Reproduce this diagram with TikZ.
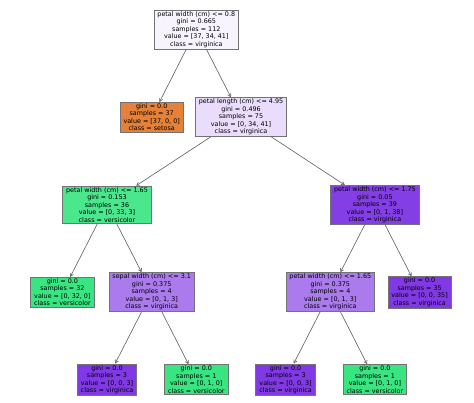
\documentclass[tikz,border=0pt]{standalone}
\usepackage{fontspec}
\setmainfont{DejaVu Sans}
\usetikzlibrary{arrows.meta}
\definecolor{cRoot}{RGB}{248,244,254}
\definecolor{cPL}{RGB}{233,221,251}
\definecolor{cA}{RGB}{75,231,140}
\definecolor{cB}{RGB}{132,62,230}
\definecolor{cMid}{RGB}{171,123,238}
\definecolor{cOr}{RGB}{229,129,57}
\definecolor{cGr}{RGB}{57,229,129}
\definecolor{cPu}{RGB}{129,57,229}
\begin{document}
\begin{tikzpicture}[x=1pt,y=-1pt,
  tn/.style={draw=black!55, line width=0.7pt, inner xsep=3.5pt, inner ysep=1.3pt,
    align=center, font=\fontsize{6.4}{7.5}\selectfont, text=black},
  edge/.style={draw=black!60, line width=0.65pt, -{Straight Barb[length=3pt,width=3.5pt]}}]
\useasboundingbox (0,0) rectangle (474,402);
\node[tn, fill=cRoot] (root) at (196.3,29.5) {petal width (cm) <= 0.8\\gini = 0.665\\samples = 112\\value = [37, 34, 41]\\class = virginica};
\node[tn, fill=cOr] (setosa) at (151.7,117.3) {gini = 0.0\\samples = 37\\value = [37, 0, 0]\\class = setosa};
\node[tn, fill=cPL] (pl) at (241,117) {petal length (cm) <= 4.95\\gini = 0.496\\samples = 75\\value = [0, 34, 41]\\class = virginica};
\node[tn, fill=cA] (a) at (107,204.8) {petal width (cm) <= 1.65\\gini = 0.153\\samples = 36\\value = [0, 33, 3]\\class = versicolor};
\node[tn, fill=cB] (b) at (374.9,204.8) {petal width (cm) <= 1.75\\gini = 0.05\\samples = 39\\value = [0, 1, 38]\\class = virginica};
\node[tn, fill=cGr] (l32) at (62.4,292.3) {gini = 0.0\\samples = 32\\value = [0, 32, 0]\\class = versicolor};
\node[tn, fill=cMid] (sw) at (151.7,292) {sepal width (cm) <= 3.1\\gini = 0.375\\samples = 4\\value = [0, 1, 3]\\class = virginica};
\node[tn, fill=cMid] (pwb) at (330.3,292) {petal width (cm) <= 1.65\\gini = 0.375\\samples = 4\\value = [0, 1, 3]\\class = virginica};
\node[tn, fill=cPu] (l35) at (419.6,292.3) {gini = 0.0\\samples = 35\\value = [0, 0, 35]\\class = virginica};
\node[tn, fill=cPu] (la) at (107,379.5) {gini = 0.0\\samples = 3\\value = [0, 0, 3]\\class = virginica};
\node[tn, fill=cGr] (lb) at (196.3,379.5) {gini = 0.0\\samples = 1\\value = [0, 1, 0]\\class = versicolor};
\node[tn, fill=cPu] (lc) at (285.6,379.5) {gini = 0.0\\samples = 3\\value = [0, 0, 3]\\class = virginica};
\node[tn, fill=cGr] (ld) at (374.9,379.5) {gini = 0.0\\samples = 1\\value = [0, 1, 0]\\class = versicolor};
\draw[edge] (root) -- (setosa);
\draw[edge] (root) -- (pl);
\draw[edge] (pl) -- (a);
\draw[edge] (pl) -- (b);
\draw[edge] (a) -- (l32);
\draw[edge] (a) -- (sw);
\draw[edge] (sw) -- (la);
\draw[edge] (sw) -- (lb);
\draw[edge] (b) -- (pwb);
\draw[edge] (b) -- (l35);
\draw[edge] (pwb) -- (lc);
\draw[edge] (pwb) -- (ld);
\end{tikzpicture}
\end{document}
